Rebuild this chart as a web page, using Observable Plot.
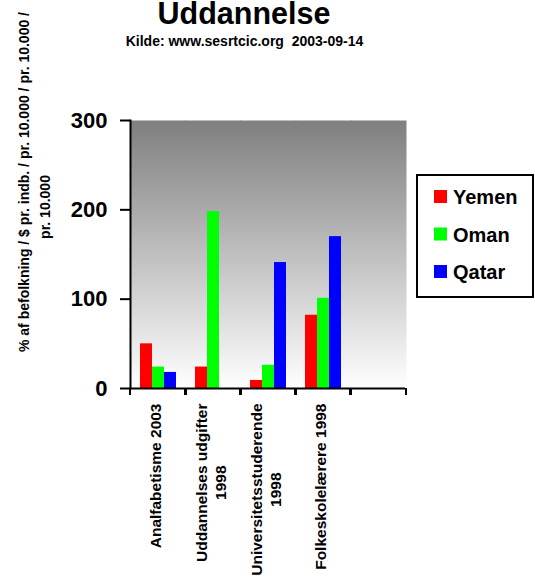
<!DOCTYPE html>
<html>
<head>
<meta charset="utf-8">
<script src="https://cdn.jsdelivr.net/npm/d3@7"></script>
<script src="https://cdn.jsdelivr.net/npm/@observablehq/plot@0.6"></script>
<style>
  body { margin: 0; background: #fff; }
  #chart { width: 535px; height: 578px; overflow: hidden; }
</style>
</head>
<body>
<div id="chart"></div>
<script>
// ---- data ----
const categories = ["Analfabetisme 2003", "Uddannelses udgifter 1998", "Universitetsstuderende 1998", "Folkeskolelærere 1998"];
const tickLabels = ["Analfabetisme 2003", "Uddannelses udgifter\n1998", "Universitetsstuderende\n1998", "Folkeskolelærere 1998"];
const series = ["Yemen", "Oman", "Qatar"];
const colors = ["#ff0000", "#00ff00", "#0000ff"];
const yemen = [50, 24, 9, 82];
const oman = [24, 198, 26, 101];
const qatar = [18, null, 141, 170];
const yTicks = [0, 100, 200, 300];
const slots = [...categories, ""]; // empty fifth slot on the axis
const title = "Uddannelse";
const subtitle = "Kilde: www.sesrtcic.org  2003-09-14";
const yLabel1 = "% af befolkning / $ pr. indb. / pr. 10.000 / pr. 10.000 /";
const yLabel2 = "pr. 10.000";

const valuesBySeries = [yemen, oman, qatar];
const rows = categories.flatMap((c, i) =>
  series.map((s, j) => ({category: c, series: s, value: valuesBySeries[j][i]}))
).filter(d => d.value != null);

const font = "Arial, 'Liberation Sans', sans-serif";

const plot = Plot.plot({
  width: 535,
  height: 578,
  marginLeft: 128,
  marginRight: 128,
  marginTop: 120,
  marginBottom: 190,
  style: {fontFamily: font, background: "#fff", color: "#000", overflow: "visible"},
  fx: {domain: slots, padding: 0, label: null},
  x: {domain: series, paddingInner: 0, paddingOuter: 0.65, axis: null},
  y: {domain: [0, 300], label: null},
  color: {domain: series, range: colors},
  marks: [
    Plot.frame({fill: "url(#bgGrad)", stroke: "none", insetRight: -1}),
    Plot.barY(rows, {fx: "category", x: "series", y: "value", fill: "series"}),
    Plot.ruleY(slots, {fx: d => d, y: 0, strokeWidth: 2}),
    Plot.frame({anchor: "left", facetAnchor: "left", strokeWidth: 2}),
    Plot.axisY({ticks: yTicks, tickSize: 10, tickPadding: 13, strokeWidth: 2, fontSize: 22, fontWeight: "bold", label: null}),
    // ticks on the slot boundaries
    Plot.axisFx({anchor: "bottom", tickSize: 7, strokeWidth: 2, fill: "none", dx: -28, label: null}),
    Plot.axisFx({anchor: "bottom", tickSize: 7, strokeWidth: 2, fill: "none", dx: 28, label: null}),
    // category labels
    Plot.axisFx({
      anchor: "bottom",
      tickSize: 0, tickPadding: 15, tickRotate: -90, dx: -3,
      tickFormat: c => { const i = categories.indexOf(c); return i < 0 ? "" : tickLabels[i]; },
      fontSize: 15.5, fontWeight: "bold", textAnchor: "end", lineAnchor: "middle", lineHeight: 1.25,
      label: null
    })
  ]
});

document.getElementById("chart").append(plot);

const svg = d3.select(plot);

// gradient background for the plot area
const grad = svg.insert("defs", ":first-child").append("linearGradient")
  .attr("id", "bgGrad").attr("x1", 0).attr("y1", 0).attr("x2", 0).attr("y2", 1);
grad.append("stop").attr("offset", "0%").attr("stop-color", "#7f7f7f");
grad.append("stop").attr("offset", "100%").attr("stop-color", "#ffffff");

// center multi-line tick labels within their block (Excel style)
svg.selectAll('[aria-label="fx-axis tick label"] text').each(function() {
  const tspans = this.querySelectorAll("tspan");
  if (tspans.length > 1) {
    const L = d3.max(Array.from(tspans), t => t.getComputedTextLength());
    this.setAttribute("text-anchor", "middle");
    this.setAttribute("transform", this.getAttribute("transform") + ` translate(${-L / 2},0)`);
  }
});

// titles
const t = svg.append("g").attr("font-family", font).attr("font-weight", "bold").attr("fill", "#000");
t.append("text").attr("x", 244).attr("y", 24).attr("text-anchor", "middle").attr("font-size", 30.5).text(title);
t.append("text").attr("x", 244.5).attr("y", 46).attr("text-anchor", "middle").attr("font-size", 14)
  .style("white-space", "pre").text(subtitle);
t.append("text").attr("transform", "translate(29,352) rotate(-90)").attr("text-anchor", "start").attr("font-size", 14).text(yLabel1);
t.append("text").attr("transform", "translate(50,207) rotate(-90)").attr("text-anchor", "middle").attr("font-size", 14).text(yLabel2);

// legend
const color = plot.scale("color");
const lg = svg.append("g").attr("font-family", font).attr("font-weight", "bold").attr("font-size", 20).attr("text-anchor", "start");
lg.append("rect").attr("x", 417).attr("y", 175).attr("width", 116).attr("height", 122)
  .attr("fill", "#fff").attr("stroke", "#000").attr("stroke-width", 2);
color.domain.forEach((s, i) => {
  const y0 = 190 + i * 37.5;
  lg.append("rect").attr("x", 434).attr("y", y0).attr("width", 13).attr("height", 13).attr("fill", color.range[i]);
  lg.append("text").attr("x", 453).attr("y", y0 + 14).attr("fill", "#000").attr("text-anchor", "start").text(s);
});
</script>
</body>
</html>
